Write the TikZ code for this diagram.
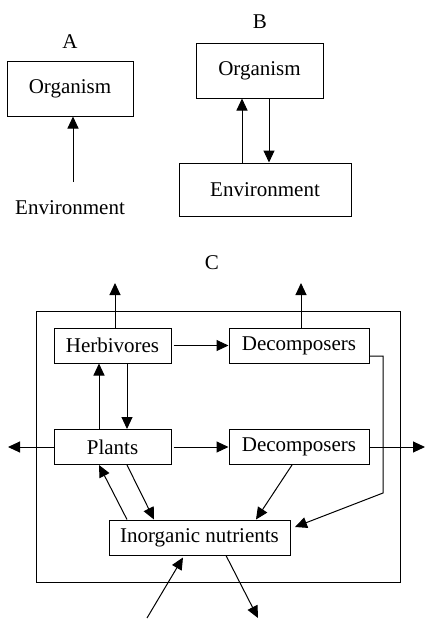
\documentclass[tikz,border=0pt]{standalone}
\usepackage{fontspec}
\setmainfont{Liberation Serif}
\usetikzlibrary{positioning,arrows.meta}

\begin{document}
\begin{tikzpicture}[x=1pt,y=-1pt,on grid,line width=1pt,
  >={Triangle[length=12pt,width=11pt]},
  font=\fontsize{21}{25}\selectfont,
  box/.style={draw,minimum height=35pt,inner sep=0pt}]
  \useasboundingbox (0,0) rectangle (425,619);
  \path
  node (labA) at (70,42) {A}
  node[box,minimum width=126pt,minimum height=55pt] (orgA) at (70,88.5) {Organism}
  node (envA) at (70,208) {Environment}
  node (labB) at (260,22) {B}
  node[box,minimum width=127pt,minimum height=55pt] (orgB) at (259.5,70.5) {Organism}
  node[box,minimum width=172pt,minimum height=53pt] (envB) at (265,189.5) {Environment}
  node (labC) at (212,263) {C}
  node[draw,minimum width=364pt,minimum height=271pt] (eco) at (218,446.5) {}
  node[box,minimum width=117pt] (herb) at (112.5,345.5) {Herbivores}
  node[box,minimum width=140pt] (decT) [right=186.5pt of herb] {Decomposers}
  node[box,minimum width=117pt] (plants) [below=101.5pt of herb] {Plants}
  node[box,minimum width=140pt] (decM) [right=186.5pt of plants] {Decomposers}
  node[box,minimum width=181pt] (inorg) at (199.5,537.5) {Inorganic nutrients}
  ;
  \coordinate (a0) at (73,182);
  \coordinate (outH) at (115,283);
  \coordinate (outD) at (301,283);
  \coordinate (outL) at (8,448);
  \coordinate (outR) at (425,448);
  \coordinate (bend) at (383,493);
  \coordinate (inE) at (295,527);
  \coordinate (inB) at (147,618);
  \coordinate (outB) at (258,618);

  % A and B
  \draw[->] (a0) -- (a0 |- orgA.south);
  \draw[->] ([xshift=-23pt]envB.north) -- ([xshift=-17.5pt]orgB.south);
  \draw[->] ([xshift=9.5pt]orgB.south) -- ([xshift=4pt]envB.north);

  % C
  \draw[->] ([xshift=2.5pt]herb.north) -- (outH);
  \draw[->] ([xshift=2pt]decT.north) -- (outD);
  \draw[->,shorten <=2pt] (herb) -- (decT);
  \draw[->] ([xshift=-13.5pt]plants.north) -- ([xshift=-13.5pt]herb.south);
  \draw[->] ([xshift=14.5pt]herb.south) -- ([xshift=14.5pt]plants.north);
  \draw[->,shorten <=2pt] (plants) -- (decM);
  \draw[->] (plants.west) -- (plants.west -| outL);
  \draw[->] (decM.east) -- (decM.east -| outR);
  \draw[->] ([yshift=-10.5pt]decT.east) -| (bend) -- (inE);
  \draw[->] ([xshift=-7pt]decM.south) -- ([xshift=56.5pt]inorg.north);
  \draw[->] ([xshift=-72.5pt]inorg.north) -- ([xshift=-13.5pt]plants.south);
  \draw[->] ([xshift=14.5pt]plants.south) -- ([xshift=-45.5pt]inorg.north);
  \draw[->] (inB) -- ([xshift=-16.5pt,yshift=-2pt]inorg.south);
  \draw[->] ([xshift=26.5pt]inorg.south) -- (outB);
\end{tikzpicture}
\end{document}
